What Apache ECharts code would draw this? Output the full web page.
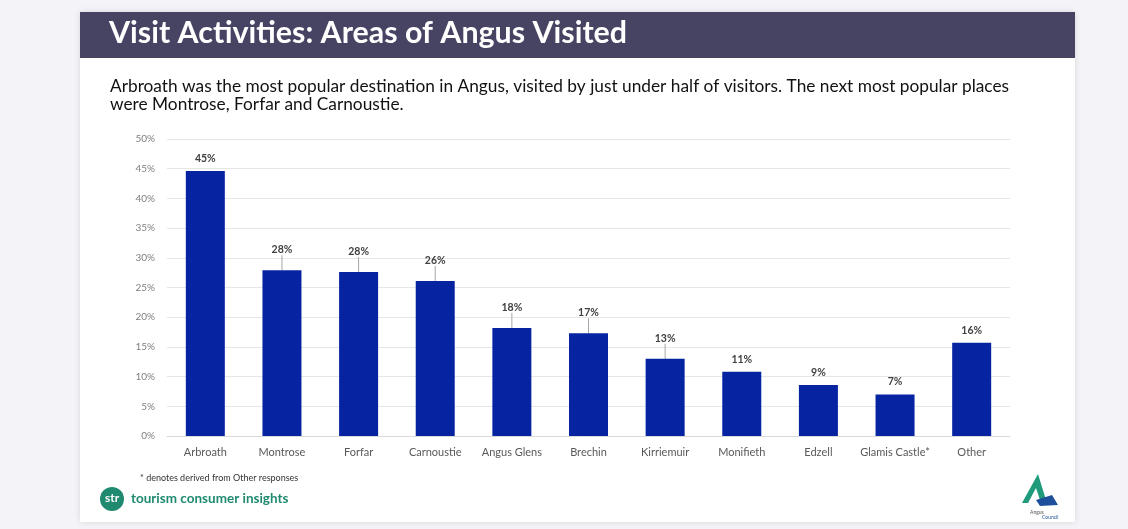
<!DOCTYPE html>
<html><head><meta charset="utf-8">
<script src="https://cdn.jsdelivr.net/npm/echarts@6/dist/echarts.min.js"></script>
<style>html,body{margin:0;padding:0;background:#f3f3f8}#c{width:1128px;height:529px}</style>
</head><body><div id="c"></div>
<script>
const categories = ['Arbroath','Montrose','Forfar','Carnoustie','Angus Glens','Brechin','Kirriemuir','Monifieth','Edzell','Glamis Castle*','Other'];
const visited = [44.6, 27.9, 27.6, 26.1, 18.2, 17.3, 13.0, 10.8, 8.6, 7.0, 15.7];
const leaderIdx = [1, 2, 3, 4, 5, 6];
const yTicks = { min: 0, max: 50, interval: 5 };
const titleText = 'Visit Activities: Areas of Angus Visited';
const subtitleLines = ['Arbroath was the most popular destination in Angus, visited by just under half of visitors. The next most popular places', 'were Montrose, Forfar and Carnoustie.'];
const footnote = '* denotes derived from Other responses';
const brand = 'tourism consumer insights';

const chart = echarts.init(document.getElementById('c'), null, {renderer: 'canvas'});
const FONT = 'Lato';
const barData = visited.map((v, i) => ({
  value: v,
  labelLine: {show: leaderIdx.indexOf(i) >= 0}
}));
chart.setOption({
  backgroundColor: '#f3f3f8',
  animation: false,
  graphic: [
    {type: 'rect', shape: {x: 80, y: 12, width: 995, height: 510}, style: {fill: '#ffffff', shadowBlur: 6, shadowColor: 'rgba(0,0,0,0.12)'}, z: -10},
    {type: 'rect', shape: {x: 80, y: 12, width: 995, height: 46}, style: {fill: '#474363'}, z: -5},
    {type: 'text', x: 109, y: 33, style: {text: titleText, fill: '#ffffff', font: 'bold 30.4px ' + FONT, verticalAlign: 'middle'}},
    {type: 'text', x: 110, y: 86, style: {text: subtitleLines[0], fill: '#111111', font: '17.3px ' + FONT, verticalAlign: 'middle'}},
    {type: 'text', x: 110, y: 104, style: {text: subtitleLines[1], fill: '#111111', font: '17.3px ' + FONT, verticalAlign: 'middle'}},
    {type: 'text', x: 140, y: 478, style: {text: footnote, fill: '#333333', font: '9px ' + FONT, verticalAlign: 'middle'}},
    {type: 'circle', shape: {cx: 112, cy: 499, r: 12}, style: {fill: '#1f8a70'}},
    {type: 'text', x: 112, y: 498, style: {text: 'str', fill: '#ffffff', font: 'bold 12px ' + FONT, align: 'center', verticalAlign: 'middle'}},
    {type: 'text', x: 131, y: 499, style: {text: brand, fill: '#1f8a70', font: 'bold 13.5px ' + FONT, verticalAlign: 'middle'}},
    {type: 'polygon', shape: {points: [[1022,503],[1038,474],[1046,500],[1040,500],[1036,488],[1028,503]]}, style: {fill: '#1f9a7a'}},
    {type: 'polygon', shape: {points: [[1036,500],[1052,495],[1058,505],[1040,506]]}, style: {fill: '#1d4f9a'}},
    {type: 'text', x: 1030, y: 510, style: {text: 'Angus', fill: '#555', font: '5px ' + FONT}},
    {type: 'text', x: 1042, y: 515, style: {text: 'Council', fill: '#1d4f9a', font: '5px ' + FONT}}
  ],
  grid: {left: 167, right: 118, top: 139, bottom: 93},
  xAxis: {
    type: 'category', data: categories,
    axisLine: {lineStyle: {color: '#d9d9d9'}}, axisTick: {show: false},
    axisLabel: {color: '#595959', fontFamily: FONT, fontSize: 11, margin: 11, interval: 0}
  },
  yAxis: {
    type: 'value', min: yTicks.min, max: yTicks.max, interval: yTicks.interval,
    axisLine: {show: false}, axisTick: {show: false},
    splitLine: {lineStyle: {color: '#e6e6e6'}},
    axisLabel: {color: '#7f7f7f', fontFamily: FONT, fontSize: 10, margin: 12, formatter: v => v + '%'}
  },
  series: [{
    type: 'bar', data: barData, barWidth: 39,
    itemStyle: {color: '#0624a2'},
    label: {show: true, position: 'top', distance: 7, color: '#404040', fontFamily: FONT, fontWeight: 'bold', fontSize: 10.5, formatter: p => Math.round(p.value) + '%'},
    labelLayout: p => leaderIdx.indexOf(p.dataIndex) >= 0 ? {dy: -8} : {},
    labelLine: {show: true, lineStyle: {color: '#a6a6a6', width: 1}}
  }]
});
</script></body></html>
